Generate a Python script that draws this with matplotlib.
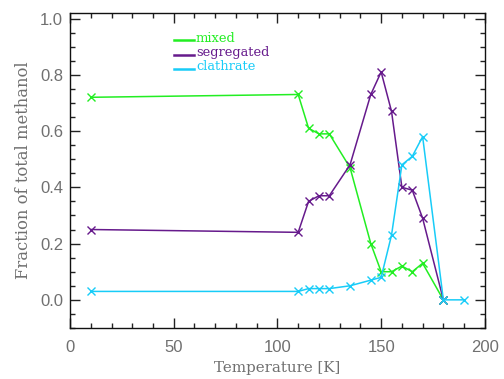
import matplotlib
matplotlib.use('Agg')
import matplotlib.pyplot as plt
from matplotlib.ticker import MultipleLocator
from matplotlib.legend_handler import HandlerLine2D
from matplotlib.lines import Line2D

# temperatures [K]
temp = [10, 110, 115, 120, 125, 135, 145, 150, 155, 160, 165, 170, 180]
temp_clath = temp + [190]

mixed = [0.72, 0.73, 0.61, 0.59, 0.59, 0.47, 0.20, 0.10, 0.10, 0.12, 0.10, 0.13, 0.0]
segregated = [0.25, 0.24, 0.35, 0.37, 0.37, 0.48, 0.73, 0.81, 0.67, 0.40, 0.39, 0.29, 0.0]
clathrate = [0.03, 0.03, 0.04, 0.04, 0.04, 0.05, 0.07, 0.08, 0.23, 0.48, 0.51, 0.58, 0.0, 0.0]

xticks = [0, 50, 100, 150, 200]
yticks = [0.0, 0.2, 0.4, 0.6, 0.8, 1.0]

c_mixed = '#22ee22'
c_seg = '#661a8c'
c_clath = '#18ccf8'
gray = '#707070'

plt.rcParams['font.family'] = 'DejaVu Serif'


# legend lines sit at the text baseline, like the IDL legend
class LowLine(HandlerLine2D):
    def create_artists(self, legend, orig_handle, xdescent, ydescent,
                       width, height, fontsize, trans):
        arts = super().create_artists(legend, orig_handle, xdescent, ydescent,
                                      width, height, fontsize, trans)
        for a in arts:
            if isinstance(a, Line2D):
                a.set_ydata([y - 0.35 * height for y in a.get_ydata()])
                a.set_marker('')
                a.set_linewidth(1.8)
        return arts


fig = plt.figure(figsize=(5.04, 3.79), dpi=100)
ax = fig.add_axes([0.139, 0.1346, 0.823, 0.8314])

ax.plot(temp, mixed, color=c_mixed, marker='x', ms=6, lw=1.1, label='mixed')
ax.plot(temp, segregated, color=c_seg, marker='x', ms=6, lw=1.1, label='segregated')
ax.plot(temp_clath, clathrate, color=c_clath, marker='x', ms=6, lw=1.1, label='clathrate')

ax.set_xlim(0, 200)
ax.set_ylim(-0.1, 1.02)
ax.xaxis.set_minor_locator(MultipleLocator(10))
ax.yaxis.set_minor_locator(MultipleLocator(0.05))
ax.set_xticks(xticks)
ax.set_xticklabels([str(t) for t in xticks], family='Liberation Sans')
ax.set_yticks(yticks)
ax.set_yticklabels(['%.1f' % t for t in yticks], family='Liberation Sans')

ax.tick_params(which='both', direction='in', top=True, right=True,
               colors='#222222', labelcolor=gray, labelsize=12)
ax.tick_params(which='major', length=7.5, width=1, pad=5)
ax.tick_params(axis='x', which='major', pad=9)
ax.tick_params(which='minor', length=3.5, width=1)
for s in ax.spines.values():
    s.set_color('#111111')
    s.set_linewidth(1)

ax.set_xlabel('Temperature [K]', color=gray, fontsize=10.8, labelpad=4)
ax.set_ylabel('Fraction of total methanol', color=gray, fontsize=11.8, labelpad=6)

leg = ax.legend(loc='upper left', bbox_to_anchor=(0.25, 0.94), frameon=False,
                handlelength=1.55, handletextpad=0.15, labelspacing=0.1,
                fontsize=9.4, labelcolor='linecolor', borderaxespad=0,
                borderpad=0, handler_map={Line2D: LowLine()})

fig.savefig('out.png', dpi=100)
